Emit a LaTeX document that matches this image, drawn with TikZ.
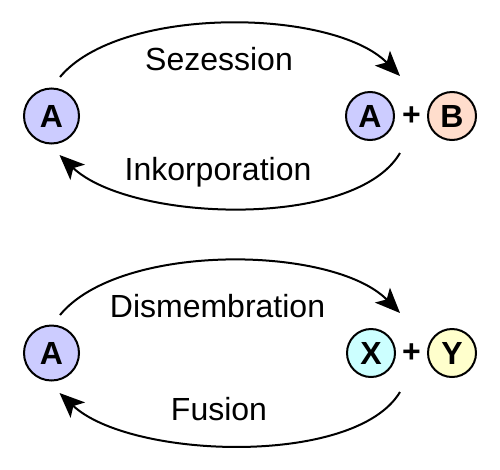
\documentclass[tikz,border=0pt]{standalone}
\usepackage{fontspec}
\setmainfont{Liberation Sans}
\usetikzlibrary{calc,positioning,arrows.meta}
\definecolor{stateA}{HTML}{CCCCFF}
\definecolor{stateB}{HTML}{FFDDCC}
\definecolor{stateX}{HTML}{CCFFFF}
\definecolor{stateY}{HTML}{FFFFCC}
\newcommand{\lbl}{\fontsize{32}{38}\selectfont}

\begin{document}
\begin{tikzpicture}[x=1pt,y=-1pt,
  state/.style={circle,draw,line width=2pt,inner sep=0pt,
    font=\lbl\bfseries,minimum size=48pt},
  bigstate/.style={state,minimum size=55pt},
  plus/.style={font=\lbl\bfseries,inner sep=0pt},
  txt/.style={font=\lbl,anchor=base},
  flow/.style={line width=2pt,-{Stealth[length=25pt,width=21pt,inset=6pt]}}]
  \useasboundingbox (0,0) rectangle (500,469);
  % upper diagram
  \node[bigstate,fill=stateA] (A1) at (51.5,116) {A};
  \node[state,fill=stateA] (A2) at (370,116) {A};
  \node[plus] (p1) at (411.5,116) {+};
  \node[state,fill=stateB] (B) at (452,116) {B};
  \node[txt] (sez) at (219,70) {Sezession};
  \node[txt] (ink) at (218,180) {Inkorporation};
  \draw[flow] ($(A1)+(8.5,-39)$) .. controls (120,5) and (333,8) .. ($(A2)+(30,-40)$);
  \draw[flow] ($(A2)+(30,37)$) .. controls (355,230) and (130,222) .. ($(A1)+(8,39)$);
  % lower diagram
  \node[bigstate,fill=stateA] (A3) at (51.5,353) {A};
  \node[state,fill=stateX] (X) at (371,353) {X};
  \node[plus] (p2) at (411.5,353) {+};
  \node[state,fill=stateY] (Y) at (452,353) {Y};
  \node[txt] (dis) at (217.5,317) {Dismembration};
  \node[txt] (fus) at (219,420) {Fusion};
  \draw[flow] ($(A3)+(8.5,-38)$) .. controls (120,242) and (333,245) .. ($(X)+(29,-40)$);
  \draw[flow] ($(X)+(29,39)$) .. controls (355,467) and (130,459) .. ($(A3)+(8,40)$);
\end{tikzpicture}
\end{document}
